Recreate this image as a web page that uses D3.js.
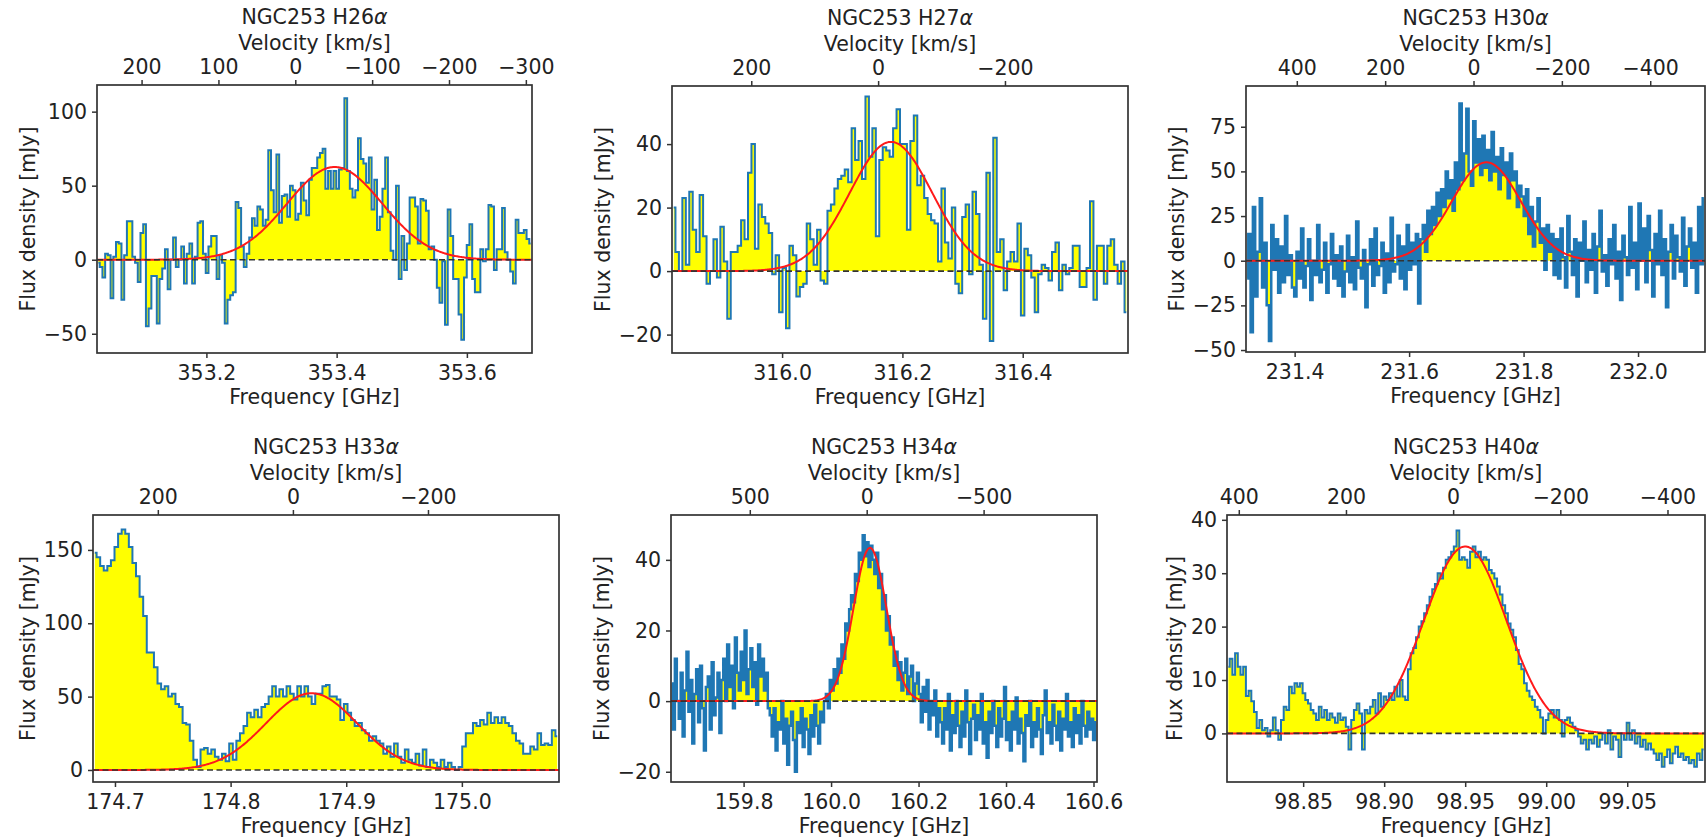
<!DOCTYPE html>
<html>
<head>
<meta charset="utf-8">
<script src="https://cdn.jsdelivr.net/npm/d3@7/dist/d3.min.js"></script>
<style>
  body { margin: 0; background: #fff; }
  text { font-family: "DejaVu Sans", sans-serif; fill: #222; }
</style>
</head>
<body>
<svg id="chart" width="1706" height="840"></svg>
<script>
// ---- data (flux in mJy per channel) ----
const lineNames = ["H26", "H27", "H30", "H33", "H34", "H40"];

const h26Flux = [-2, -5, -12, 4, 3, -26, 2, 12, 11, -27, 3, 26, 26, 2, -2, -15, 18, 24, -45, -33, -11, -11, -43, -13, -6, 7, -20, 0, 15, -5,
  0, 9, -16, 4, 11, -16, 2, 25, 26, 4, -9, 9, 16, 16, -13, 3, -2, -43, -27, -24, -22, 39, 35, 9, -5, 4, 15, 28, 23, 36,
  34, 23, 27, 74, 47, 32, 71, 25, 43, 44, 29, 50, 47, 27, 31, 52, 40, 30, 54, 62, 62, 69, 72, 75, 48, 60, 48, 60, 48, 61,
  62, 109, 60, 48, 42, 47, 82, 68, 65, 52, 69, 34, 54, 20, 29, 48, 69, 32, 6, 0, 50, -13, 16, -7, 11, 42, 42, 36, 11, 41,
  40, 33, 7, 9, 0, -19, -29, -1, -44, 34, 16, -13, -13, -37, -54, -12, 10, 24, -13, -22, -22, 7, -1, 7, 37, 36, -7, 7, 7, 35,
  5, 0, -8, -16, 27, 18, 18, 20, 14, 11];
const h27Flux = [20, 6, 0, 23, 2, 25, 13, 6, 24, 11, -4, 0, 10, -2, 14, 3, -15, 6, 6, 8, 16, 10, 31, 40, 7, 21, 17, 15, 12, -1,
  5, -13, 1, -18, 8, 5, -8, -5, -4, 15, 10, 2, 13, -3, -4, 19, 21, 26, 29, 30, 32, 28, 45, 35, 41, 29, 55, 36, 45, 11,
  35, 39, 38, 36, 45, 51, 40, 40, 13, 41, 49, 27, 30, 23, 18, 16, 15, 3, 26, 9, 4, 20, -4, -7, 17, 21, -1, 25, 18, 2,
  -15, 31, -22, 42, 6, 10, -6, 3, 6, 3, 15, -14, 7, 5, -2, -13, -1, 2, 1, -3, 6, 9, -6, 2, -1, 1, 8, 8, -5, -5,
  1, 22, -9, 8, 8, -4, 8, 10, 2, -4, 3, -13];
const h30Flux = [-10, 15, -40, 30, -20, 5, 35, -15, 10, -25, -45, 20, -5, 12, -18, 8, -12, 25, -8, 3, -15,
  -20, 5, -10, 18, -15, -3, 12, -22, 0, -8, 20, -12, -5, 10, -18, -2, 15, -10, 3, -14,
  8, -20, -6, 14, -12, 2, -16, 22, -4, -10, 6, -26, -2, 12, -14, 18, -8, -3, 10, -18,
  4, -12, 24, -6, -2, 14, -10, 8, -16, 20,
  -5, 10, -2, 15, -24, 12, 20, 5, 28, 15, 30, 20, 38, 25, 40,
  30, 50, 35, 45, 28, 55, 40, 88, 45, 60, 85, 50, 42, 78, 55, 68, 48, 70, 52, 62, 45, 72, 50, 58, 40, 63, 48, 55, 35, 60, 45, 50, 30, 42, 36,
  25, 40, 15, 30, 8, 22, 35, 10, 18, -5, 20, 5, 15, -8, 12,
  -10, 18, 2, -15, 25, 5, -8, 12, -20, 10, 0, 22, -12, 6, -5, 15, -18, 8, 28, -6,
  3, -14, 12, -2, 20, -10, 5, -22, 14, 2, -8, 30, -4, 10, -16, 32, 0, 18, -12, 25,
  6, -20, 15, -2, 28, -8, 12, -26, 5, 20, -10, 14, 2, -6, 24, -14, 8, 18, -4, 10,
  -18, 30, -2, 35];
const h33Flux = [148, 145, 139, 136, 139, 143, 152, 161, 164, 161, 152, 141, 132, 118, 105, 80, 80, 70, 59, 55, 57, 50, 52, 45, 43, 32, 31, 20, 7, 2,
  14, 15, 11, 14, 9, 7, 11, 6, 18, 7, 20, 25, 30, 39, 36, 41, 36, 43, 45, 50, 57, 50, 55, 50, 57, 52, 48, 57, 50, 57,
  50, 45, 52, 52, 57, 58, 50, 50, 48, 34, 45, 39, 34, 30, 32, 27, 25, 20, 23, 20, 18, 11, 16, 9, 18, 9, 5, 14, 7, 5,
  11, 3, 14, 2, 7, 5, 2, 7, 2, 5, 2, 0, 2, 16, 25, 25, 32, 30, 34, 31, 39, 32, 36, 32, 36, 32, 30, 25, 20, 18,
  11, 11, 16, 14, 25, 17, 18, 17, 27, 23];
const h34Flux = [5, -8, 12, 0, -5, 8, -10, 3, 14, -3, 6, -12, 2, 9, -6, 10, -2, -14, 4, 7, -8, 11, -4, 1, 8, -9,
  6, 12, 0, 16, 4, 10, -2, 18, 8, 3, 14, 6, 20, 2, 9, 15, 4, 11, -1, 16, 7, 12, 3, 8, -2,
  -4, -10, -2, -14, -6, -8, 0, -12, -5, -18, -7, -3, -11, -20, -6, -9, -2, -13, -5, -8, -15, -4, -10, -1, -7, -12, -3, -6, 0,
  2, -2, 6, 3, 9, 5, 12, 8, 16, 12, 22,
  20, 26, 30, 28, 36, 34, 42, 40, 47, 41, 45, 38, 44, 40, 36, 42, 32, 36, 26, 30, 20, 24, 16,
  18, 10, 14, 6, 11, 3, 8, 12, 2, 7, 10, 0, 5, 8,
  2, -6, 4, -3, 6, -8, 0, -4, 3, -10, -2,
  -6, -12, -2, -8, 2, -14, -4, -9, 0, -7, -13, -3, -10, 3, -6, -15, -5, -1, -11, -4,
  -8, 2, -12, -6, -16, -3, -9, 0, -7, -13, -2, -10, -5, 4, -11, -6, -14, -3, -8, 1,
  -12, -5, -9, -17, -4, -7, 0, -13, -6, -10, -2, -8, -15, -4, 3, -9, -6, -12, -1, -7,
  -11, -3, -14, -5, -8, 2, -10, -6, -13, -2, -9, -4, -12, 0, -7, -10, -3, -8, -5, -11, -6];
const h40Flux = [12.5, 14, 11, 15, 12.5, 11, 12.5, 7, 8, 6, 4, 1, 2.5, 0.6, 1, -0.6, 0.6, 3, 0.6, -1.2,
  2.5, 5, 4.4, 8.75, 7.5, 9.4, 8.75, 9.4, 7.5, 6.25, 5.6, 4.4, 3.75, 2.5, 5, 3, 4.4, 2.5, 3.75, 3,
  2, 3.75, 2.5, 3, 1.25, -3, 2.5, 4.4, 5.6, 3.75, -3, 4.4, 3.75, 5, 6.25, 3.75, 7.5, 5, 6.9, 6.25,
  7.5, 6.25, 8.75, 6.9, 10, 6.9, 6.25, 12, 15, 16, 18, 20, 21, 22.5, 24, 25.6, 27, 28, 30, 29,
  31, 32.5, 33, 34, 35, 38, 32.5, 33, 32.5, 31, 34, 35, 33, 34, 32.5, 33, 32.5, 30.6, 30, 29,
  27.5, 26, 24, 22.5, 20.6, 19.4, 18, 15.6, 13, 12, 9.4, 8, 6.9, 6.25, 5, 4.4, 3, 0, 2.5, 3.75,
  4.4, 3, 4.4, 2.5, -0.6, 2.5, 3, 2, 1.25, 0.6, -0.6, -1.9, -1.2, -3, -1.2, -1.9, -0.6, -2.5, -1.2, 0,
  -1.9, 0.6, -3, -0.6, -1.2, -4.4, 0, -1.2, 2, -1.2, 0.6, -1.9, -0.6, -2.5, -1.2, -3, -1.9, -3, -3.75, -5,
  -3.75, -6.25, -4.4, -3, -5.6, -3.75, -2.5, -4.4, -3.75, -5, -4.4, -5.6, -5, -6.25, -3.75, -5, -3];

// axis limits [left, right] / [bottom, top]
const freqLimits = [[353.032, 353.70], [315.817, 316.575], [231.315, 232.117], [174.681, 175.084], [159.634, 160.608], [98.803, 99.098]];
const velLimits = [[258, -308], [325, -394], [515, -524], [296, -394], [837, -985], [422, -470]];
const fluxLimits = [[-63, 118], [-25.8, 58.3], [-51.1, 97.8], [-8.2, 173.8], [-22.9, 52.7], [-9.1, 40.9]];

// tick values
const freqTicks = [[353.2, 353.4, 353.6], [316.0, 316.2, 316.4], [231.4, 231.6, 231.8, 232.0], [174.7, 174.8, 174.9, 175.0],
  [159.8, 160.0, 160.2, 160.4, 160.6], [98.85, 98.90, 98.95, 99.00, 99.05]];
const freqFormats = [".1f", ".1f", ".1f", ".1f", ".1f", ".2f"];
const velTicks = [[200, 100, 0, -100, -200, -300], [200, 0, -200], [400, 200, 0, -200, -400], [200, 0, -200], [500, 0, -500], [400, 200, 0, -200, -400]];
const fluxTicks = [[-50, 0, 50, 100], [-20, 0, 20, 40], [-50, -25, 0, 25, 50, 75], [0, 50, 100, 150], [-20, 0, 20, 40], [0, 10, 20, 30, 40]];

// gaussian fit parameters: amplitude [mJy], centre [GHz], sigma [GHz]
const fitAmp = [62.6, 40.7, 55.1, 52.3, 43.4, 35.0];
const fitCenter = [353.397, 316.181, 231.735, 174.870, 160.089, 98.950];
const fitSigma = [0.073, 0.0685, 0.060, 0.0395, 0.0377, 0.0254];

const fluxes = [h26Flux, h27Flux, h30Flux, h33Flux, h34Flux, h40Flux];

// ---- layout ----
const boxes = [
  { x: 97, y: 85, w: 435, h: 268 },
  { x: 672, y: 86, w: 456, h: 267 },
  { x: 1246, y: 86, w: 459, h: 266 },
  { x: 93, y: 515, w: 466, h: 267 },
  { x: 671, y: 515, w: 426, h: 267 },
  { x: 1227, y: 515, w: 478, h: 267 }
];
const fontSize = 20.5;
const tickLen = 5;

const svg = d3.select("#chart");

lineNames.forEach((name, i) => {
  const box = boxes[i];
  const flux = fluxes[i];
  const [f0, f1] = freqLimits[i];
  const n = flux.length;
  const chan = (f1 - f0) / n;
  const spectrum = flux.map((v, k) => ({ f: f0 + (k + 0.5) * chan, v: v }));
  const dense = (f1 - f0) / box.w * 1000 / chan * 1000 > 0 && n / box.w > 0.4;

  const x = d3.scaleLinear().domain(freqLimits[i]).range([0, box.w]);
  const y = d3.scaleLinear().domain(fluxLimits[i]).range([box.h, 0]);
  const xv = d3.scaleLinear().domain(velLimits[i]).range([0, box.w]);

  const g = svg.append("g").attr("transform", `translate(${box.x},${box.y})`);

  g.append("clipPath").attr("id", "clip" + i)
    .append("rect").attr("width", box.w).attr("height", box.h);

  const plot = g.append("g").attr("clip-path", `url(#clip${i})`);

  const area = d3.area().curve(d3.curveStep)
    .x(d => x(d.f)).y0(y(0)).y1(d => y(d.v));
  plot.append("path").datum(spectrum)
    .attr("d", area).attr("fill", "#ffff00");

  const line = d3.line().curve(d3.curveStep)
    .x(d => x(d.f)).y(d => y(d.v));
  plot.append("path").datum(spectrum)
    .attr("d", line).attr("fill", "none")
    .attr("stroke", "#1f77b4")
    .attr("stroke-width", dense && i !== 5 ? 2.5 : 2)
    .attr("stroke-linejoin", "miter");

  // gaussian model of the fit
  const fitCurve = d3.range(0, 401).map(k => {
    const f = f0 + (f1 - f0) * k / 400;
    return { f: f, v: fitAmp[i] * Math.exp(-0.5 * Math.pow((f - fitCenter[i]) / fitSigma[i], 2)) };
  });
  plot.append("path").datum(fitCurve)
    .attr("d", d3.line().x(d => x(d.f)).y(d => y(d.v)))
    .attr("fill", "none").attr("stroke", "#ff1a1a").attr("stroke-width", 2);

  plot.append("line")
    .attr("x1", 0).attr("x2", box.w).attr("y1", y(0)).attr("y2", y(0))
    .attr("stroke", "#333").attr("stroke-width", 1.6)
    .attr("stroke-dasharray", "6,3.5");

  // axes
  const bottom = g.append("g").attr("transform", `translate(0,${box.h})`)
    .call(d3.axisBottom(x).tickValues(freqTicks[i]).tickFormat(d3.format(freqFormats[i]))
      .tickSize(tickLen).tickPadding(7));
  const top = g.append("g")
    .call(d3.axisTop(xv).tickValues(velTicks[i]).tickFormat(d3.format("d"))
      .tickSize(tickLen).tickPadding(6));
  const left = g.append("g")
    .call(d3.axisLeft(y).tickValues(fluxTicks[i]).tickFormat(d3.format("d"))
      .tickSize(tickLen).tickPadding(5));

  [bottom, top, left].forEach(ax => {
    ax.select(".domain").remove();
    ax.selectAll("line").attr("stroke", "#333").attr("stroke-width", 1.5);
    ax.selectAll("text").style("font-size", fontSize + "px").attr("fill", "#222");
  });

  g.append("rect").attr("width", box.w).attr("height", box.h)
    .attr("fill", "none").attr("stroke", "#333").attr("stroke-width", 1.7);

  // labels
  const title = g.append("text").attr("x", box.w / 2).attr("y", -61)
    .attr("text-anchor", "middle").style("font-size", fontSize + "px");
  title.append("tspan").text("NGC253 " + name);
  title.append("tspan").attr("font-style", "italic").text("α");

  g.append("text").attr("x", box.w / 2).attr("y", -35.5)
    .attr("text-anchor", "middle").style("font-size", fontSize + "px")
    .text("Velocity [km/s]");

  g.append("text").attr("x", box.w / 2).attr("y", box.h + 50.5)
    .attr("text-anchor", "middle").style("font-size", fontSize + "px")
    .text("Frequency [GHz]");

  const tickBox = left.node().getBBox();
  const labelX = tickBox.x - 9;
  g.append("text")
    .attr("transform", `translate(${labelX},${box.h / 2}) rotate(-90)`)
    .attr("text-anchor", "middle").style("font-size", fontSize + "px")
    .text("Flux density [mJy]");
});
</script>
</body>
</html>
